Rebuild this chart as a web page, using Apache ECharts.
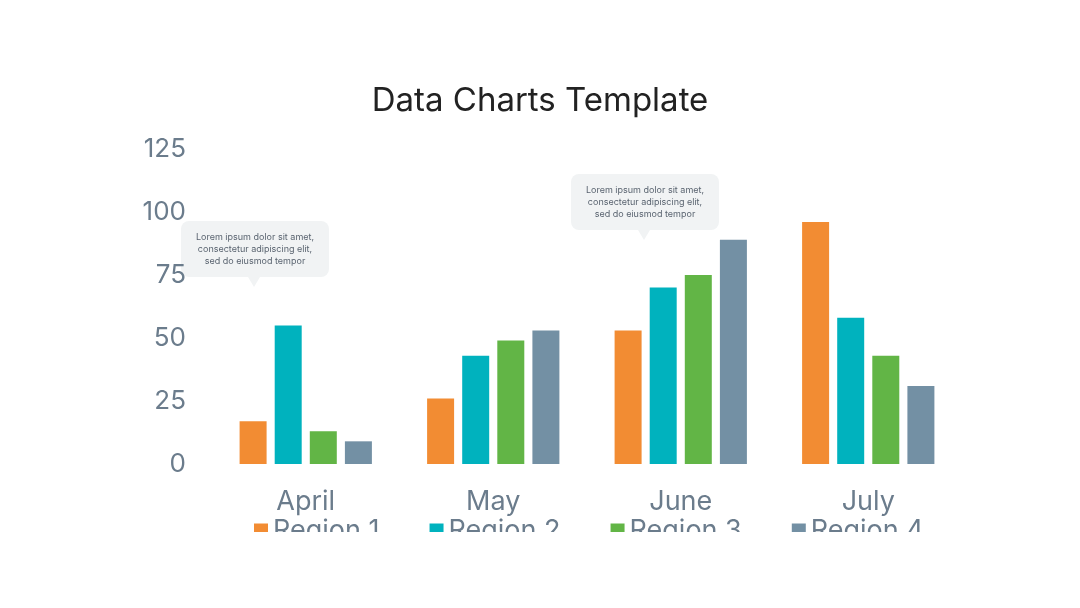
<!DOCTYPE html>
<html>
<head>
<meta charset="utf-8">
<script src="https://cdn.jsdelivr.net/npm/echarts@6/dist/echarts.min.js"></script>
<style>
  html, body { margin: 0; padding: 0; background: #fff; }
  #chart { width: 1080px; height: 532px; }
</style>
</head>
<body>
<div id="chart"></div>
<script>
// data
var months = ['April', 'May', 'June', 'July']
var regionNames = ['Region 1', 'Region 2', 'Region 3', 'Region 4']
var region1 = [17, 26, 53, 96]
var region2 = [55, 43, 70, 58]
var region3 = [13, 49, 75, 43]
var region4 = [9, 53, 89, 31]
var yTicks = [0, 25, 50, 75, 100, 125]

var colors = ['#F28C33', '#00B2BE', '#62B546', '#7390A4']
var labelColor = '#6B7C8C'
var noteText = 'Lorem ipsum dolor sit amet,\nconsectetur adipiscing elit,\nsed do eiusmod tempor'

// callout bubble (box + little pointer)
function callout(x, y) {
  return {
    type: 'group',
    left: x,
    top: y,
    children: [
      {
        type: 'rect',
        shape: { x: 0, y: 0, width: 148, height: 56, r: 8 },
        style: { fill: '#F1F3F4' }
      },
      {
        type: 'polygon',
        shape: { points: [[67, 56], [79, 56], [73, 66]] },
        style: { fill: '#F1F3F4' }
      },
      {
        type: 'text',
        style: {
          x: 74, y: 28,
          text: noteText,
          align: 'center',
          verticalAlign: 'middle',
          fill: '#5A6470',
          fontSize: 9,
          lineHeight: 12,
          fontFamily: 'Inter'
        }
      }
    ]
  }
}

var chart = echarts.init(document.getElementById('chart'))
var seriesData = [region1, region2, region3, region4]

chart.setOption({
  animation: false,
  color: colors,
  title: {
    text: 'Data Charts Template',
    left: 'center',
    top: 80,
    textStyle: { color: '#222', fontSize: 33, fontWeight: 400, fontFamily: 'Inter' }
  },
  grid: { left: 212, right: 118, top: 149, bottom: 532 - 464 },
  xAxis: {
    type: 'category',
    data: months,
    axisLine: { show: false },
    axisTick: { show: false },
    axisLabel: { color: labelColor, fontSize: 27, margin: 24, fontFamily: 'Inter' }
  },
  yAxis: {
    type: 'value',
    min: yTicks[0],
    max: yTicks[yTicks.length - 1],
    interval: 25,
    splitLine: { show: false },
    axisLabel: { color: labelColor, fontSize: 26, margin: 26, fontFamily: 'Inter' }
  },
  legend: {
    data: regionNames,
    left: 249,
    top: 512,
    icon: 'rect',
    itemWidth: 14,
    itemHeight: 14,
    itemGap: 50,
    textStyle: { color: labelColor, fontSize: 27, fontFamily: 'Inter' }
  },
  series: regionNames.map(function (name, i) {
    return {
      name: name,
      type: 'bar',
      data: seriesData[i],
      barWidth: 27,
      barGap: '30%'
    }
  }),
  graphic: [callout(181, 221), callout(571, 174)]
})
</script>
</body>
</html>
